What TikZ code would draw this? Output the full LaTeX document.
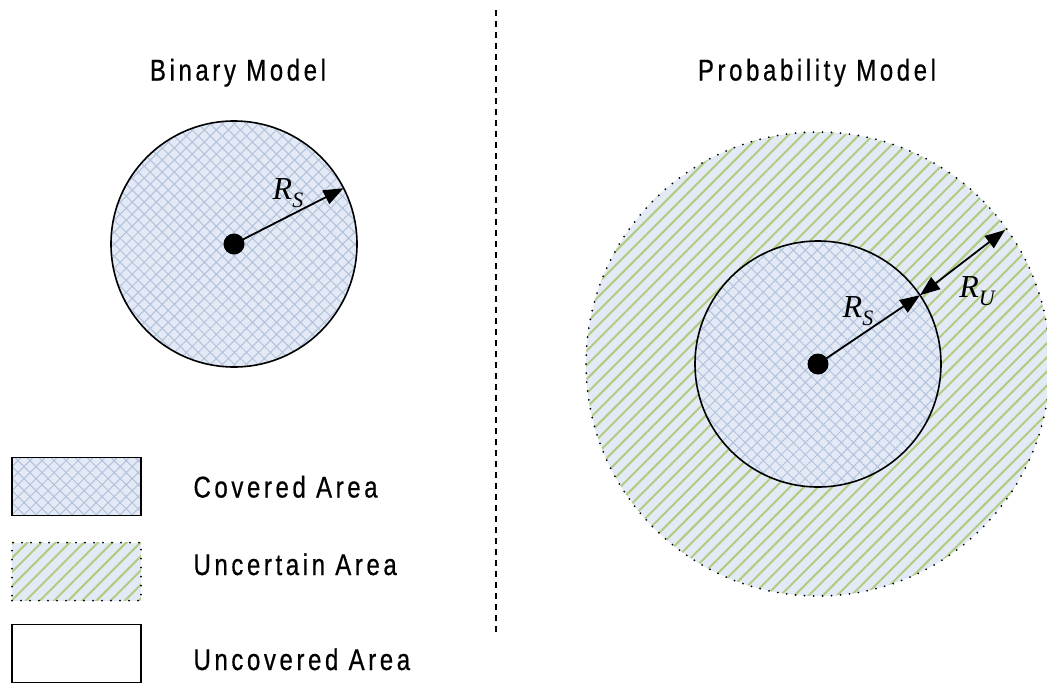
\documentclass[tikz,border=0pt]{standalone}
\usepackage{fontspec}
\setmainfont{Liberation Serif}
\newfontfamily\labelfont[FakeStretch=0.8,LetterSpace=12,FakeBold=0.6]{Liberation Sans}
\usetikzlibrary{arrows.meta,patterns.meta}
\definecolor{covbg}{RGB}{227,234,245}
\definecolor{covline}{RGB}{178,194,220}
\definecolor{uncline}{RGB}{176,204,128}
\tikzset{
  covered/.style={preaction={fill=covbg},pattern={Hatch[angle=45,distance=8.5pt,line width=1pt]},pattern color=covline},
  uncertain/.style={preaction={fill=covbg},pattern={Lines[angle=45,distance=10pt,line width=2pt]},pattern color=uncline},
  solidline/.style={draw=black,line width=1.6pt},
  dottedline/.style={postaction={draw=black,line width=2pt,line cap=round,dash pattern=on 0pt off 9pt}},
  legbox/.style={rectangle,minimum width=129pt,minimum height=58pt,inner sep=0pt},
  dot/.style={circle,fill=black,minimum size=21pt,inner sep=0pt},
  ring/.style={circle,inner sep=0pt,outer sep=0pt},
  title/.style={font=\labelfont\fontsize{30}{32}\selectfont,anchor=base},
  legtext/.style={font=\labelfont\fontsize{30}{32}\selectfont,anchor=base west},
  rlabel/.style={font=\fontsize{32}{34}\selectfont\itshape,inner sep=0pt},
  arr/.style={line width=1.8pt,-{Triangle[length=20pt,width=15pt]}},
  darr/.style={line width=1.8pt,{Triangle[length=20pt,width=15pt]}-{Triangle[length=20pt,width=15pt]}},
  divider/.style={line width=1.6pt,dash pattern=on 6pt off 5pt}
}
\newcommand{\RS}[1]{R\raisebox{-0.25em}{\fontsize{22}{22}\selectfont #1}}
\begin{document}
\begin{tikzpicture}[x=1pt,y=-1pt]
\useasboundingbox (0,0) rectangle (1047,683);
% divider
\coordinate (dtop) at (496,10);
\coordinate (dbot) at (496,635);
\draw[divider] (dtop) -- (dbot);
% titles
\node[title] (t1) at (238,80.5) {Binary Model};
\node[title] (t2) at (817,80.5) {Probability Model};
% left circle
\node[ring,covered,solidline,minimum size=246pt] (lc) at (234,244) {};
\node[dot] (ld) at (234,244) {};
\coordinate (lend) at (lc.27.8);
\draw[arr] (ld.center) -- (lend);
\node[rlabel] (lrs) at (288,193) {\RS{S}};
% right circles
\node[ring,uncertain,dottedline,minimum size=464pt] (ro) at (818,364) {};
\node[ring,covered,solidline,minimum size=246pt] (ri) at (818,364) {};
\node[dot] (rd) at (818,364) {};
\coordinate (rend) at (ri.34);
\draw[arr] (rd.center) -- (rend);
\coordinate (uend) at (1005,230);
\draw[darr] (rend) -- (uend);
\node[rlabel] (rrs) at (858,311) {\RS{S}};
\node[rlabel] (rru) at (977,291) {\RS{U}};
% legend
\node[legbox,covered,solidline] (b1) at (76.5,486.5) {};
\node[legbox,uncertain,dottedline] (b2) at (76.5,571.5) {};
\node[legbox,solidline] (b3) at (76.5,653.5) {};
\node[legtext] (l1) at (190,497.5) {Covered Area};
\node[legtext] (l2) at (190,575) {Uncertain Area};
\node[legtext] (l3) at (190,670) {Uncovered Area};
\end{tikzpicture}
\end{document}
